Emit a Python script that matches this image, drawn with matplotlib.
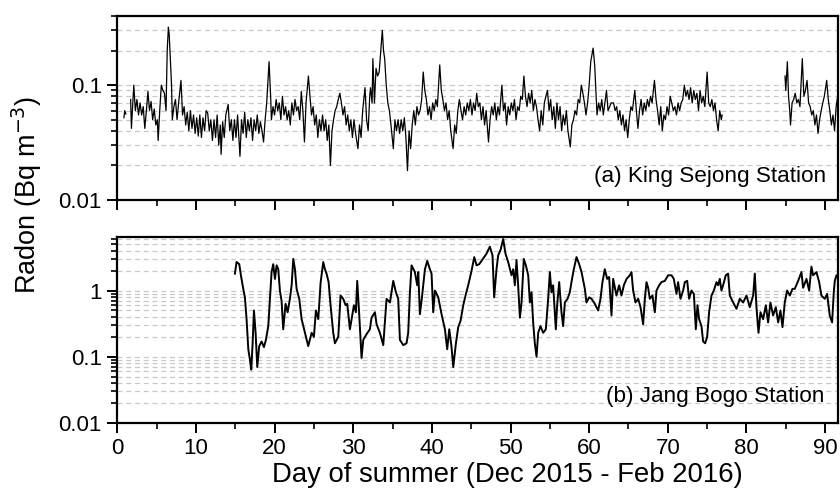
import numpy as np
import matplotlib
matplotlib.use("Agg")
import matplotlib.pyplot as plt
from matplotlib.ticker import LogLocator, FuncFormatter, NullFormatter, MultipleLocator

plt.rcParams["font.family"] = ["Liberation Sans", "DejaVu Sans"]

NAN = float("nan")

# Hourly radon at King Sejong Station: (day of summer, Bq m^-3); NaN marks data gaps
king_sejong = [
    (0.85, 0.052), (0.95, 0.06), (1.1, 0.056), (1.4, NAN),
    (1.7, 0.075), (1.8, 0.042), (2.1, 0.1), (2.3, 0.06), (2.5, 0.075), (2.7, 0.055),
    (2.9, 0.07), (3.1, 0.055), (3.3, 0.065), (3.5, 0.042), (3.7, 0.06), (3.9, 0.088),
    (4.1, 0.06), (4.3, 0.072), (4.5, 0.05), (4.7, 0.062), (4.9, 0.045), (5.1, 0.05),
    (5.2, 0.033), (5.4, 0.06), (5.6, 0.1), (5.8, 0.09), (6.0, 0.085), (6.2, 0.06),
    (6.35, 0.2), (6.5, 0.32), (6.6, 0.28), (6.75, 0.17), (6.9, 0.1), (7.0, 0.05),
    (7.2, 0.065), (7.4, 0.075), (7.6, 0.05), (7.8, 0.07), (8.1, 0.11), (8.3, 0.055),
    (8.5, 0.065), (8.7, 0.045), (8.9, 0.058), (9.1, 0.04), (9.3, 0.06), (9.5, 0.042),
    (9.7, 0.055), (9.9, 0.038), (10.1, 0.052), (10.3, 0.036), (10.5, 0.055), (10.7, 0.035),
    (10.9, 0.052), (11.1, 0.04), (11.3, 0.06), (11.5, 0.057), (11.7, 0.04), (11.9, 0.05),
    (12.1, 0.033), (12.3, 0.05), (12.5, 0.035), (12.7, 0.055), (12.9, 0.03), (13.1, 0.045),
    (13.2, 0.025), (13.4, 0.048), (13.6, 0.035), (13.8, 0.055), (14.1, 0.068), (14.3, 0.04),
    (14.5, 0.05), (14.7, 0.033), (14.9, 0.05), (15.1, 0.035), (15.3, 0.055), (15.6, 0.024),
    (15.8, 0.05), (16.0, 0.038), (16.2, 0.058), (16.4, 0.035), (16.6, 0.05), (16.8, 0.04),
    (17.0, 0.052), (17.2, 0.033), (17.4, 0.05), (17.6, 0.04), (17.8, 0.055), (18.0, 0.038),
    (18.2, 0.048), (18.4, 0.04), (18.6, 0.032), (18.8, 0.05), (19.0, 0.07), (19.3, 0.16),
    (19.5, 0.08), (19.6, 0.05), (19.8, 0.065), (20.0, 0.055), (20.2, 0.075), (20.4, 0.06),
    (20.6, 0.07), (20.8, 0.05), (21.0, 0.08), (21.2, 0.055), (21.4, 0.065), (21.6, 0.05),
    (21.8, 0.06), (22.0, 0.045), (22.2, 0.07), (22.4, 0.055), (22.6, 0.075), (22.8, 0.06),
    (23.0, 0.065), (23.2, 0.05), (23.4, 0.088), (23.6, 0.06), (23.8, 0.032), (24.0, 0.07),
    (24.3, 0.12), (24.5, 0.08), (24.7, 0.055), (24.9, 0.065), (25.1, 0.045), (25.3, 0.055),
    (25.5, 0.035), (25.7, 0.05), (25.9, 0.04), (26.1, 0.055), (26.3, 0.04), (26.5, 0.05),
    (26.7, 0.033), (26.9, 0.045), (27.1, 0.02), (27.3, 0.04), (27.5, 0.05), (27.7, 0.06),
    (27.9, 0.065), (28.1, 0.075), (28.3, 0.085), (28.5, 0.07), (28.7, 0.055), (28.9, 0.065),
    (29.1, 0.045), (29.3, 0.055), (29.5, 0.04), (29.7, 0.05), (29.9, 0.035), (30.1, 0.05),
    (30.3, 0.038), (30.6, 0.028), (30.8, 0.045), (31.0, 0.035), (31.2, 0.06), (31.5, 0.095),
    (31.7, 0.05), (31.9, 0.04), (32.1, 0.08), (32.2, 0.095), (32.4, 0.07), (32.5, 0.17),
    (32.7, 0.07), (32.9, 0.14), (33.1, 0.12), (33.3, 0.13), (33.5, 0.2), (33.7, 0.3),
    (33.85, 0.2), (34.0, 0.17), (34.2, 0.1), (34.4, 0.07), (34.6, 0.06), (34.8, 0.045),
    (35.1, 0.028), (35.3, 0.05), (35.5, 0.04), (35.7, 0.05), (35.9, 0.038), (36.1, 0.05),
    (36.3, 0.04), (36.5, 0.052), (36.7, 0.035), (36.9, 0.018), (37.1, 0.04), (37.3, 0.028),
    (37.5, 0.045), (37.7, 0.06), (37.9, 0.045), (38.1, 0.065), (38.3, 0.055), (38.5, 0.06),
    (38.7, 0.075), (38.9, 0.13), (39.1, 0.09), (39.3, 0.075), (39.5, 0.055), (39.7, 0.065),
    (39.9, 0.05), (40.1, 0.07), (40.3, 0.06), (40.5, 0.075), (40.7, 0.065), (41.0, 0.15),
    (41.2, 0.09), (41.4, 0.075), (41.6, 0.06), (41.8, 0.07), (42.0, 0.05), (42.2, 0.06),
    (42.4, 0.04), (42.7, 0.028), (42.9, 0.045), (43.1, 0.038), (43.3, 0.06), (43.5, 0.075),
    (43.7, 0.06), (43.9, 0.05), (44.1, 0.065), (44.3, 0.055), (44.5, 0.07), (44.7, 0.06),
    (44.9, 0.075), (45.1, 0.055), (45.3, 0.07), (45.5, 0.06), (45.7, 0.085), (45.9, 0.065),
    (46.1, 0.07), (46.3, 0.05), (46.5, 0.065), (46.7, 0.045), (46.9, 0.06), (47.2, 0.032),
    (47.4, 0.05), (47.6, 0.065), (47.8, 0.055), (48.0, 0.07), (48.2, 0.05), (48.4, 0.065),
    (48.6, 0.055), (48.9, 0.1), (49.1, 0.06), (49.3, 0.07), (49.5, 0.045), (49.7, 0.065),
    (49.9, 0.055), (50.1, 0.07), (50.3, 0.06), (50.5, 0.075), (50.7, 0.05), (50.9, 0.065),
    (51.1, 0.06), (51.3, 0.08), (51.5, 0.075), (51.7, 0.12), (51.9, 0.08), (52.1, 0.065),
    (52.3, 0.085), (52.5, 0.07), (52.7, 0.09), (52.9, 0.06), (53.1, 0.075), (53.3, 0.065),
    (53.5, 0.05), (53.7, 0.04), (53.9, 0.06), (54.1, 0.045), (54.3, 0.07), (54.5, 0.08),
    (54.7, 0.09), (54.9, 0.06), (55.1, 0.075), (55.3, 0.05), (55.5, 0.065), (55.7, 0.042),
    (55.9, 0.07), (56.1, 0.05), (56.3, 0.065), (56.5, 0.04), (56.7, 0.055), (56.9, 0.045),
    (57.1, 0.06), (57.3, 0.04), (57.6, 0.029), (57.8, 0.045), (58.0, 0.05), (58.2, 0.06),
    (58.4, 0.055), (58.6, 0.075), (58.8, 0.07), (59.0, 0.1), (59.2, 0.085), (59.4, 0.07),
    (59.6, 0.055), (59.8, 0.07), (60.0, 0.1), (60.2, 0.16), (60.5, 0.21), (60.7, 0.15),
    (60.85, 0.09), (61.0, 0.055), (61.2, 0.07), (61.4, 0.06), (61.6, 0.075), (61.8, 0.055),
    (62.0, 0.07), (62.2, 0.09), (62.4, 0.06), (62.6, 0.065), (62.8, 0.07), (63.1, 0.07),
    (63.3, 0.06), (63.5, 0.065), (63.7, 0.05), (63.9, 0.06), (64.1, 0.045), (64.3, 0.055),
    (64.5, 0.04), (64.7, 0.05), (64.9, 0.035), (65.1, 0.05), (65.3, 0.065), (65.5, 0.06),
    (65.8, 0.09), (66.0, 0.06), (66.2, 0.042), (66.4, 0.06), (66.6, 0.075), (66.8, 0.055),
    (67.0, 0.07), (67.2, 0.06), (67.4, 0.075), (67.6, 0.065), (67.8, 0.08), (68.0, 0.07),
    (68.3, 0.11), (68.5, 0.075), (68.7, 0.06), (68.9, 0.045), (69.1, 0.065), (69.3, 0.04),
    (69.5, 0.055), (69.7, 0.05), (69.9, 0.065), (70.1, 0.055), (70.3, 0.08), (70.5, 0.07),
    (70.7, 0.06), (70.9, 0.065), (71.1, 0.055), (71.3, 0.07), (71.5, 0.06), (71.7, 0.07),
    (71.9, 0.075), (72.1, 0.1), (72.3, 0.08), (72.5, 0.09), (72.7, 0.075), (72.9, 0.095),
    (73.1, 0.07), (73.3, 0.09), (73.5, 0.075), (73.7, 0.085), (73.9, 0.06), (74.1, 0.09),
    (74.3, 0.07), (74.5, 0.08), (74.7, 0.065), (75.0, 0.13), (75.2, 0.07), (75.4, 0.065),
    (75.6, 0.075), (75.8, 0.06), (76.0, 0.07), (76.2, 0.05), (76.4, 0.04), (76.6, 0.06),
    (76.8, 0.05), (76.9, 0.055), (80.0, NAN),
    (84.9, 0.12), (85.0, 0.09), (85.2, 0.16), (85.35, 0.08), (85.5, 0.06), (85.6, 0.045),
    (85.8, 0.07), (86.0, 0.075), (86.2, 0.085), (86.4, 0.07), (86.6, 0.075), (86.8, 0.065),
    (87.1, 0.17), (87.3, 0.08), (87.5, 0.09), (87.7, 0.11), (87.9, 0.07), (88.1, 0.065),
    (88.3, 0.055), (88.5, 0.06), (88.7, 0.045), (88.9, 0.055), (89.1, 0.038), (89.3, 0.05),
    (89.5, 0.06), (89.7, 0.07), (89.9, 0.08), (90.2, 0.11), (90.4, 0.075), (90.6, 0.06),
    (90.8, 0.045), (91.0, 0.055), (91.2, 0.04), (91.4, 0.065), (91.6, 0.08), (91.75, 0.07),
]

# Hourly radon at Jang Bogo Station: (day of summer, Bq m^-3)
jang_bogo = [
    (14.96, 1.8), (15.17, 2.7), (15.51, 2.5), (15.72, 1.7), (16.02, 1.06), (16.23, 0.79),
    (16.44, 0.37), (16.66, 0.13), (16.87, 0.09), (17.04, 0.064), (17.21, 0.16), (17.38, 0.5),
    (17.59, 0.23), (17.80, 0.07), (18.05, 0.145), (18.35, 0.17), (18.65, 0.14), (18.90, 0.18),
    (19.2, 0.29), (19.41, 0.75), (19.62, 1.9), (19.83, 2.5), (20.05, 1.5), (20.26, 2.4),
    (20.47, 2.1), (20.68, 1.0), (20.89, 0.7), (21.1, 0.26), (21.4, 0.63), (21.66, 0.47),
    (21.95, 0.75), (22.17, 1.2), (22.38, 3.0), (22.59, 2.1), (22.8, 1.06), (23.14, 0.75),
    (23.44, 0.37), (23.86, 0.23), (24.28, 0.145), (24.71, 0.23), (25.0, 0.2), (25.26, 0.5),
    (25.56, 0.37), (25.85, 1.3), (26.19, 2.7), (26.4, 2.1), (26.61, 1.8), (26.87, 1.34),
    (27.12, 0.6), (27.46, 0.23), (27.67, 0.16), (28.1, 0.2), (28.39, 0.84), (28.73, 0.75),
    (29.03, 0.6), (29.24, 0.63), (29.58, 0.26), (29.88, 0.42), (30.09, 0.6), (30.34, 0.47),
    (30.51, 1.4), (30.77, 0.42), (31.06, 0.096), (31.28, 0.18), (31.70, 0.22), (32.12, 0.26),
    (32.33, 0.39), (32.76, 0.47), (32.97, 0.31), (33.39, 0.23), (33.82, 0.15), (34.24, 0.75),
    (34.67, 0.66), (35.09, 1.4), (35.43, 0.94), (35.72, 0.75), (35.94, 0.18), (36.36, 0.15),
    (36.78, 0.16), (36.99, 0.23), (37.21, 0.94), (37.42, 2.4), (37.84, 1.9), (38.14, 1.2),
    (38.27, 1.9), (38.48, 0.44), (38.69, 0.7), (38.9, 1.2), (39.12, 2.1), (39.41, 2.8),
    (39.75, 2.1), (39.96, 1.8), (40.17, 0.47), (40.39, 1.0), (40.81, 0.79), (41.23, 0.44),
    (41.66, 0.26), (41.95, 0.13), (42.21, 0.26), (42.5, 0.14), (42.72, 0.07), (43.06, 0.16),
    (43.35, 0.28), (43.65, 0.35), (43.99, 0.6), (44.33, 0.89), (44.62, 1.2), (45.05, 2.0),
    (45.39, 3.2), (45.68, 2.4), (46.02, 2.5), (46.31, 2.8), (46.95, 3.6), (47.37, 4.6),
    (47.71, 3.4), (47.92, 0.79), (48.22, 2.1), (48.43, 3.4), (48.73, 4.1), (49.07, 6.0),
    (49.36, 3.6), (49.7, 2.7), (50.13, 1.7), (50.34, 2.1), (50.55, 1.2), (50.76, 2.9),
    (50.97, 1.2), (51.19, 0.39), (51.4, 0.66), (51.69, 3.0), (51.95, 2.4), (52.25, 1.7),
    (52.46, 0.66), (52.67, 0.94), (52.88, 0.33), (53.09, 0.16), (53.31, 0.1), (53.52, 0.23),
    (53.81, 0.29), (54.15, 0.23), (54.49, 0.26), (54.79, 0.75), (55.0, 1.9), (55.21, 0.94),
    (55.42, 1.2), (55.76, 0.26), (55.93, 0.6), (56.19, 1.34), (56.48, 0.47), (56.69, 0.29),
    (56.91, 0.66), (57.25, 0.75), (57.54, 0.94), (57.75, 1.34), (58.05, 2.1), (58.39, 3.2),
    (58.73, 2.5), (59.03, 1.9), (59.45, 1.06), (59.66, 0.66), (60.0, 0.79), (60.3, 0.75),
    (60.72, 0.63), (61.14, 0.5), (61.44, 0.75), (61.69, 1.34), (61.99, 2.1), (62.29, 1.5),
    (62.54, 1.6), (62.84, 0.42), (63.05, 1.5), (63.47, 0.84), (63.81, 1.2), (64.11, 0.84),
    (64.41, 1.2), (64.75, 1.5), (65.17, 1.7), (65.38, 1.9), (65.59, 1.0), (65.89, 0.66),
    (66.23, 0.75), (66.53, 0.56), (66.86, 0.31), (67.08, 0.75), (67.29, 1.34), (67.5, 1.1),
    (67.71, 0.75), (68.05, 0.84), (68.35, 0.47), (68.56, 1.0), (68.9, 1.2), (69.19, 1.34),
    (69.62, 1.4), (70.04, 1.7), (70.47, 1.7), (70.76, 1.5), (71.1, 0.89), (71.31, 1.34),
    (71.61, 0.75), (71.95, 1.0), (72.16, 1.34), (72.46, 1.4), (72.71, 0.75), (73.01, 1.0),
    (73.31, 0.89), (73.56, 0.26), (73.77, 0.6), (73.98, 0.37), (74.28, 0.29), (74.49, 0.17),
    (74.75, 0.16), (75.0, 0.2), (75.25, 0.47), (75.55, 0.84), (75.85, 1.0), (76.19, 1.34),
    (76.4, 1.2), (76.61, 1.5), (76.82, 1.0), (77.03, 1.2), (77.37, 1.7), (77.67, 1.8),
    (77.88, 0.84), (78.31, 0.66), (78.73, 0.53), (79.15, 0.75), (79.58, 0.66), (80.0, 0.84),
    (80.42, 0.56), (80.85, 0.84), (81.06, 1.8), (81.27, 0.56), (81.53, 0.23), (81.78, 0.47),
    (82.12, 0.37), (82.46, 0.6), (82.75, 0.33), (83.05, 0.66), (83.39, 0.42), (83.73, 0.56),
    (84.03, 0.33), (84.32, 0.5), (84.58, 0.28), (84.87, 0.66), (85.17, 1.0), (85.51, 0.84),
    (85.85, 1.06), (86.14, 1.06), (86.57, 1.4), (86.99, 1.9), (87.2, 1.1), (87.63, 1.5),
    (87.97, 1.0), (88.26, 2.3), (88.47, 1.7), (88.9, 1.9), (89.24, 1.34), (89.53, 0.84),
    (89.96, 0.75), (90.25, 0.89), (90.59, 0.42), (90.89, 0.33), (91.1, 0.94), (91.23, 1.4),
    (91.44, 1.7), (91.65, 1.5),
]

panel_titles = ["(a) King Sejong Station", "(b) Jang Bogo Station"]
x_label = "Day of summer (Dec 2015 - Feb 2016)"
y_label = "Radon (Bq m$^{-3}$)"
x_range = (0, 91.7)
y_ranges = [(0.01, 0.4), (0.01, 6.5)]

fig = plt.figure(figsize=(8.4, 4.98), dpi=100)
ax_top = fig.add_axes([0.1396, 0.5984, 0.8586, 0.3695])
ax_bot = fig.add_axes([0.1396, 0.1506, 0.8586, 0.3741])

series = [np.array(king_sejong).T, np.array(jang_bogo).T]
widths = [0.9, 1.4]
label_pos = [(0.983, 0.13), (0.981, 0.14)]

for ax, (d, v), lw, title, ylim, (tx, ty) in zip(
        [ax_top, ax_bot], series, widths, panel_titles, y_ranges, label_pos):
    ax.plot(d, v, color="black", lw=lw, zorder=3)
    ax.set_yscale("log")
    ax.set_xlim(*x_range)
    ax.set_ylim(*ylim)
    ax.yaxis.set_major_locator(LogLocator(base=10, numticks=10))
    ax.yaxis.set_minor_locator(LogLocator(base=10, subs=np.arange(2, 10), numticks=20))
    ax.yaxis.set_major_formatter(FuncFormatter(lambda val, pos: f"{val:g}"))
    ax.yaxis.set_minor_formatter(NullFormatter())
    ax.xaxis.set_major_locator(MultipleLocator(10))
    ax.xaxis.set_minor_locator(MultipleLocator(5))
    ax.yaxis.grid(True, which="both", color="#c8c8c8", linestyle=(0, (4, 3)), linewidth=0.9, zorder=0)
    ax.set_axisbelow(True)
    for sp in ax.spines.values():
        sp.set_linewidth(1.6)
    ax.tick_params(axis="both", which="major", direction="out", length=7, width=1.4,
                   labelsize=16, pad=4)
    ax.tick_params(axis="both", which="minor", direction="out", length=4, width=1.2)
    ax.text(tx, ty, title, transform=ax.transAxes, ha="right", va="center", fontsize=16.2,
            zorder=4)

ax_top.tick_params(labelbottom=False)

fig.text(0.604, 0.046, x_label, ha="center", va="center", fontsize=19.8)
fig.text(0.032, 0.608, y_label, ha="center", va="center", rotation=90, fontsize=19.5)

fig.savefig("out.png", dpi=100)
